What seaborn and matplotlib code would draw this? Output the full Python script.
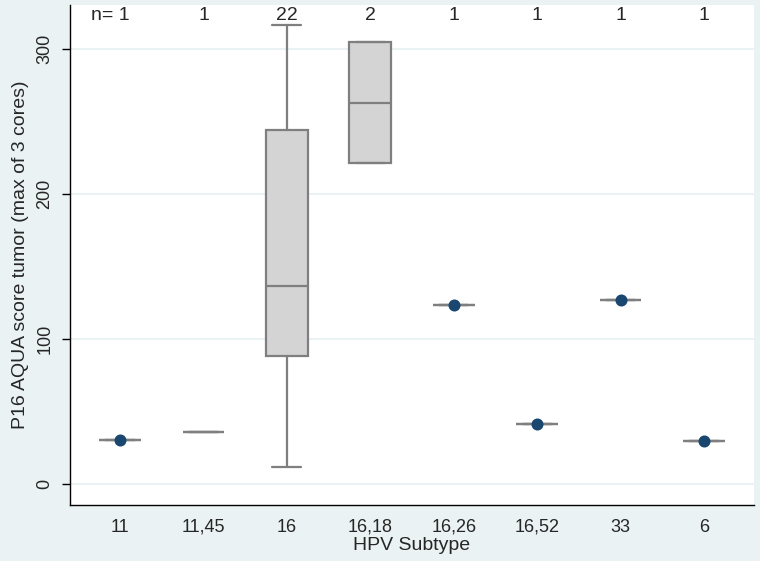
import numpy as np
import pandas as pd
import matplotlib
matplotlib.use("Agg")
import matplotlib.pyplot as plt
import seaborn as sns

# HPV subtype groups and the P16 AQUA scores
subtypes = ["11", "11,45", "16", "16,18", "16,26", "16,52", "33", "6"]
scores_11 = [30.5]
scores_11_45 = [35.5]
scores_16 = [12, 35, 52, 68, 80, 88, 88, 98, 110, 122, 136,
             137, 152, 175, 210, 244, 244, 262, 280, 295, 305, 316]
scores_16_18 = [221, 304.5]
scores_16_26 = [123.5]
scores_16_52 = [41.5]
scores_33 = [126.5]
scores_6 = [29.5]
# groups that show a marker dot in the original
marked = ["11", "16,26", "16,52", "33", "6"]

groups = [scores_11, scores_11_45, scores_16, scores_16_18,
          scores_16_26, scores_16_52, scores_33, scores_6]
df = pd.DataFrame({
    "subtype": np.repeat(subtypes, [len(g) for g in groups]),
    "score": np.concatenate(groups),
})

sns.set_theme(style="white")
plt.rcParams["font.family"] = ["Liberation Sans", "DejaVu Sans"]

bg = "#EAF2F3"
edge = "#7F7F7F"
fill = "#D4D4D4"
navy = "#1A476F"

fig = plt.figure(figsize=(7.6, 5.61), dpi=100, facecolor=bg)
ax = fig.add_axes([70 / 760, 56 / 561, 684 / 760, 500 / 561])
ax.set_facecolor("white")

# Stata-style box stats (summarize percentile definition)
stats = []
for name in subtypes:
    v = np.sort(df.loc[df.subtype == name, "score"].to_numpy())
    q1, med, q3 = np.percentile(v, [25, 50, 75], method="averaged_inverted_cdf")
    iqr = q3 - q1
    lo = v[v >= q1 - 1.5 * iqr].min()
    hi = v[v <= q3 + 1.5 * iqr].max()
    stats.append(dict(med=med, q1=q1, q3=q3, whislo=lo, whishi=hi, fliers=[]))

pos = np.arange(len(subtypes))
ax.bxp(stats, positions=pos, widths=0.5, patch_artist=True, showfliers=False,
       boxprops=dict(facecolor=fill, edgecolor=edge, linewidth=1.6),
       medianprops=dict(color=edge, linewidth=1.6),
       whiskerprops=dict(color=edge, linewidth=1.6),
       capprops=dict(color=edge, linewidth=1.6), capwidths=0.35,
       zorder=3)

dots = df[df.subtype.isin(marked)].copy()
dots["x"] = dots.subtype.map({s: i for i, s in enumerate(subtypes)})
sns.scatterplot(data=dots, x="x", y="score", color=navy, s=75,
                edgecolor=navy, linewidth=0, zorder=4, ax=ax, legend=False)

# n= counts along the top
counts = df.groupby("subtype", sort=False).size()
for i, s in enumerate(subtypes):
    txt = f"n= {counts[s]}" if i == 0 else str(counts[s])
    ax.text(i + (0.12 if i == 0 else 0), 0.98, txt,
            transform=ax.get_xaxis_transform(),
            ha="right" if i == 0 else "center", va="center", fontsize=14)

ax.set_xlim(-0.6, 7.6)
ax.set_ylim(-14.5, 330)
ax.set_xticks(pos)
ax.set_xticklabels(subtypes, fontsize=13)
ax.set_yticks([0, 100, 200, 300])
ax.set_yticklabels(["0", "100", "200", "300"], fontsize=13,
                   rotation=90, va="center")
ax.tick_params(axis="x", length=0, pad=10)
ax.tick_params(axis="y", left=True, length=6, width=1, color="black", pad=6)
ax.grid(axis="y", color=bg, linewidth=1.5)
ax.set_axisbelow(True)

for side in ["top", "right"]:
    ax.spines[side].set_visible(False)
for side in ["left", "bottom"]:
    ax.spines[side].set_color("black")
    ax.spines[side].set_linewidth(1)

ax.set_xlabel("HPV Subtype", fontsize=14, labelpad=1)
ax.set_ylabel("P16 AQUA score tumor (max of 3 cores)", fontsize=14, labelpad=5)

fig.savefig("out.png", dpi=100, facecolor=bg)
